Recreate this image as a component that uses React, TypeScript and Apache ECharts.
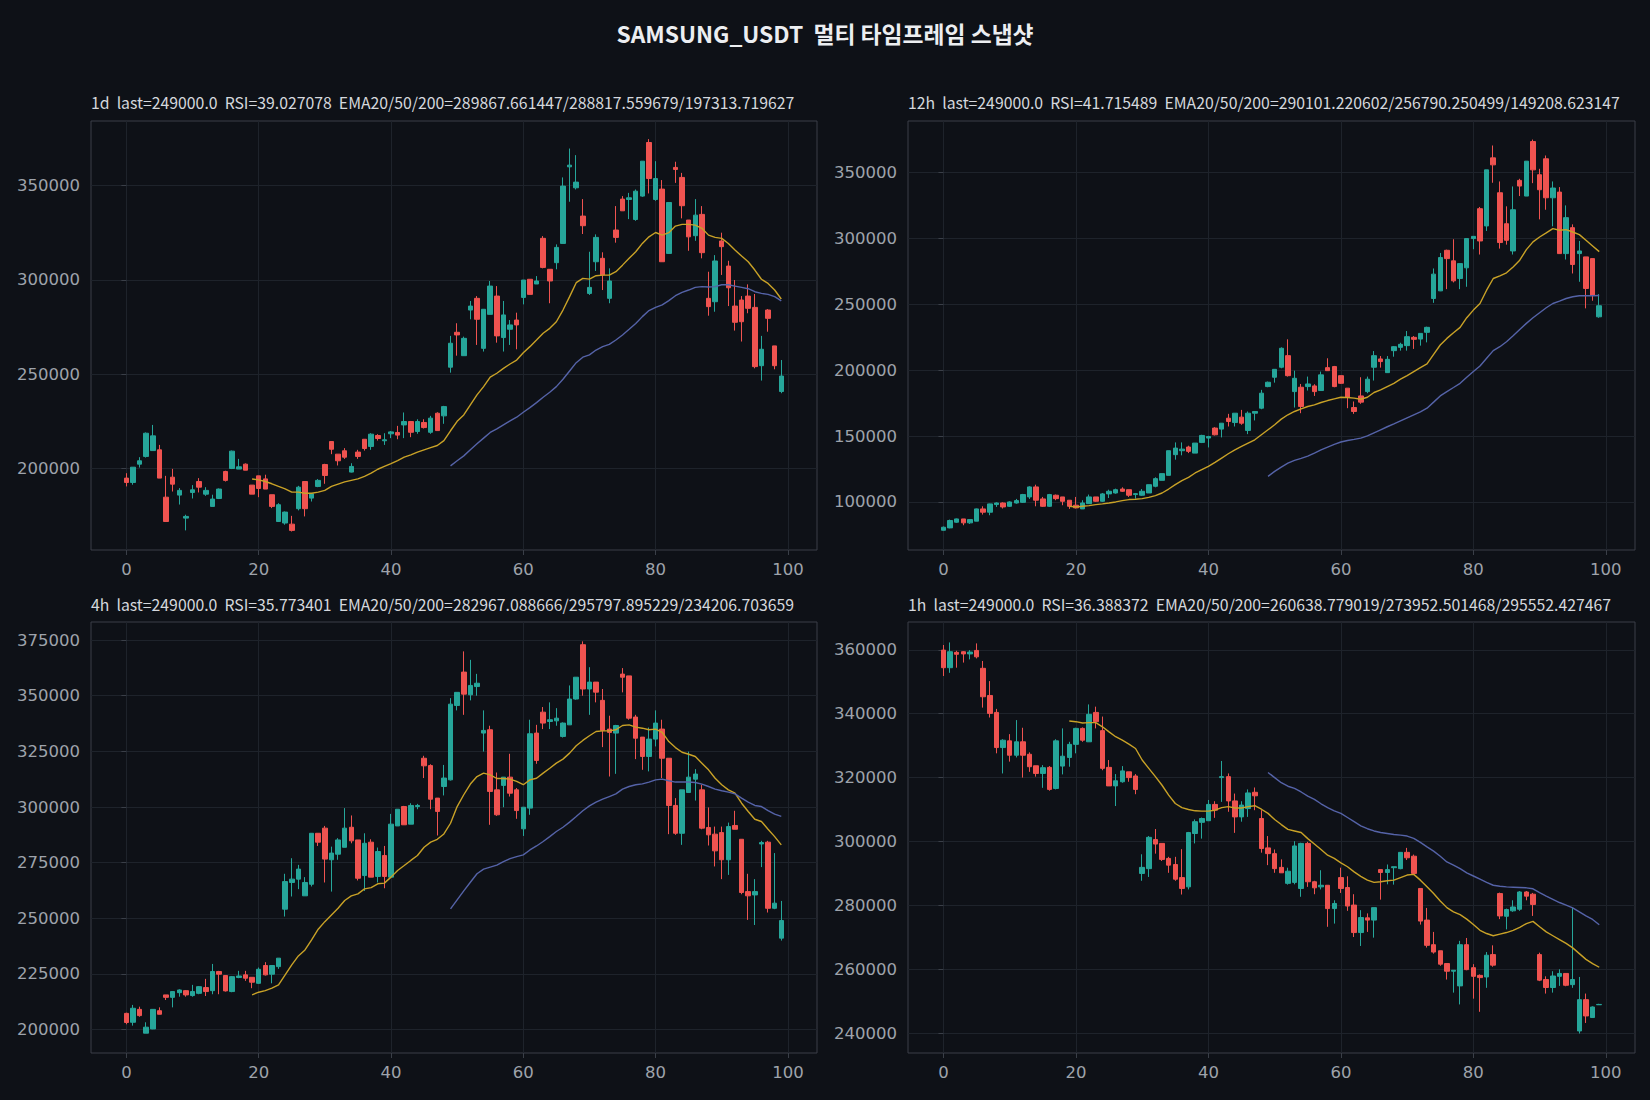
import React, { useEffect, useRef } from "react";
import * as echarts from "echarts";

// ---------- DATA ----------
const mainTitle = "SAMSUNG_USDT \u00a0멀티 타임프레임 스냅샷";
const panelHeaders = [
  "1d \u00a0last=249000.0 \u00a0RSI=39.027078 \u00a0EMA20/50/200=289867.661447/288817.559679/197313.719627",
  "12h \u00a0last=249000.0 \u00a0RSI=41.715489 \u00a0EMA20/50/200=290101.220602/256790.250499/149208.623147",
  "4h \u00a0last=249000.0 \u00a0RSI=35.773401 \u00a0EMA20/50/200=282967.088666/295797.895229/234206.703659",
  "1h \u00a0last=249000.0 \u00a0RSI=36.388372 \u00a0EMA20/50/200=260638.779019/273952.501468/295552.427467",
];
const xTicks = [0, 20, 40, 60, 80, 100];
const yTicks1d = [200000, 250000, 300000, 350000];
const yTicks12h = [100000, 150000, 200000, 250000, 300000, 350000];
const yTicks4h = [200000, 225000, 250000, 275000, 300000, 325000, 350000, 375000];
const yTicks1h = [240000, 260000, 280000, 300000, 320000, 340000, 360000];

// candles: [open, close, low, high]
const candles1d = [
  [194900,192600,190500,197500],[192600,200700,191400,200700],[202300,204100,200500,206000],[206400,218700,205800,219100],
  [209500,217300,209500,223100],[209900,194900,194900,212500],[184800,171900,171900,196100],[195400,191700,187800,199800],
  [185900,188400,180900,189600],[173700,174600,167200,175500],[187300,188700,184100,191200],[193100,190100,187300,194900],
  [186400,188400,185500,190100],[179900,183800,179900,186100],[184100,189100,183800,189400],[198400,193700,193100,198800],
  [200000,209200,199700,209500],[199700,200900,199700,205100],[202300,199100,199100,202700],[191200,186400,186400,191200],
  [196100,189400,184800,196100],[194500,189100,189100,196700],[186100,179900,179000,186100],[171900,180800,171900,181600],
  [171100,176900,170200,177200],[170500,167200,166600,174900],[178700,190100,177800,190800],[193100,178700,174600,193100],
  [184300,186600,182500,186900],[190500,193700,190100,194400],[202100,196300,191900,202500],[214300,210200,207600,214300],
  [207600,204100,201600,207600],[209400,206000,205100,210800],[198100,201100,197900,202800],[208700,206400,205100,209900],
  [215500,210600,209500,215500],[211700,218200,209900,218700],[217500,215900,214800,218200],[214700,215200,212500,218700],
  [218400,219400,216100,219900],[219100,217700,215500,222600],[223100,224900,216100,229700],[224900,219200,216600,225200],
  [219600,224900,218400,226100],[224400,221700,221200,226100],[219200,226700,218400,227900],[229300,220100,220100,229800],
  [227900,232800,223700,233200],[253700,266400,250800,270300],[272200,270800,259800,277000],[259800,269000,259800,269900],
  [284000,286100,279100,288800],[290200,279100,265500,291400],[263700,284400,262000,284400],[281700,296700,281700,299400],
  [291400,270300,266700,296700],[269400,281400,262000,288800],[273800,276100,265500,278700],[278700,276100,263200,282600],
  [290700,299900,287000,299900],[300300,292300,292300,300300],[297800,299400,297800,302000],[322000,306600,306100,323200],
  [305600,299400,287600,305600],[309100,317200,305600,318800],[319300,349700,319300,354300],[359900,360800,341400,369600],
  [348800,351800,347900,366100],[333800,328700,324300,342800],[292800,296000,292000,314900],[309600,322500,304700,324100],
  [311400,302600,294600,314600],[290200,299400,287600,306100],[326400,322500,319700,339100],[342800,336600,336600,344400],
  [342600,343500,332200,346100],[332000,347000,331300,347900],[344400,362900,344000,362900],[372800,353700,345800,374600],
  [342600,353700,341900,362900],[348100,309600,309600,352900],[314000,341000,313700,341000],[359600,358500,351400,362600],
  [354300,339300,332600,356700],[331700,322800,315400,331700],[323400,334300,320700,342800],[334700,314400,311400,339100],
  [290200,285800,281000,304300],[288400,310000,283100,313100],[320600,317600,302600,325000],[307300,295800,286100,310100],
  [286100,277500,273100,299900],[289300,277800,267300,291400],[291400,284900,282300,297600],[285400,254000,253100,292500],
  [254500,263200,246600,270300],[284000,279600,272500,284500],[265000,254500,252600,265000],[240800,249000,239900,257500],
];
const ema20_1d = [
  194400,194000,193100,191900,190500,189200,187500,187500,186900,186900,
  187500,188400,190500,191700,192900,193700,194500,195800,197500,199600,
  201100,202600,204200,206000,207200,208700,209900,211100,212200,214800,
  220000,225000,228400,233700,239000,243400,248400,250500,253100,255400,
  257500,261400,264600,268100,271700,274300,277800,284000,291100,298500,
  300800,300400,302200,302500,302500,304300,307800,311400,314900,319300,
  322800,325100,323700,325000,328500,329400,329400,329000,327300,323700,
  322500,322000,319300,315800,312600,309600,305200,300300,298100,294600,
  289868,
];
const ema50_1d = [
  201400,204100,206700,209900,213100,216100,219100,221000,223100,225200,
  227200,229800,232300,234900,237800,240400,243400,247300,251700,256100,
  259000,260200,262800,264600,265800,268100,270800,273800,276900,280500,
  283700,285400,286700,289000,291600,293400,294600,296000,296400,296200,
  296400,297400,297400,296700,296000,295300,293700,292800,292300,291100,
  288818,
];

const candles12h = [
  [78500,80800,78300,81300],[80300,85900,80000,86600],[84600,87100,84100,87400],[87100,84100,82300,87100],
  [84100,86600,83300,86600],[85400,94700,85400,95000],[94700,92200,90400,96700],[92200,98500,89900,98700],
  [98000,99200,96200,99700],[99200,96200,95000,99700],[96700,100000,96200,100500],[99200,101000,98700,102300],
  [99700,105600,99200,106100],[103800,111400,102300,111900],[111400,101300,96700,113100],[102300,96700,96200,103800],
  [96700,105600,96200,106100],[105100,102500,101300,105600],[103800,100500,97500,103800],[101300,96700,94700,101300],
  [97500,95500,95000,103800],[94700,99200,94700,101300],[98700,103800,98700,105600],[103800,100500,100000,103800],
  [100500,106100,100000,106800],[106100,108100,103000,109300],[106800,109300,106300,110100],[109800,108100,107600,111100],
  [109300,105100,103800,109300],[105600,106300,102500,106800],[105100,108100,104600,109800],[106800,113100,106800,113100],
  [111900,117700,111100,118700],[116400,121500,116400,121500],[120200,138900,120200,138900],[135900,140900,132100,145200],
  [138900,140100,135400,145200],[141700,138400,137100,142700],[137100,144700,137100,144700],[145200,150500,144700,151000],
  [148500,149700,141400,150200],[156100,151000,150500,156800],[155300,159800,149000,159800],[163600,161100,157300,166900],
  [160300,167400,157300,167400],[164400,159800,158600,169900],[154300,167400,151500,168700],[167400,168700,161900,168700],
  [171200,182600,170400,185100],[187600,190900,187100,191400],[194700,200700,190600,200700],[202300,216700,201500,217400],
  [211100,195900,195200,223500],[183800,193900,171700,199700],[187100,172500,167400,189600],[187600,189600,184600,195200],
  [188100,183800,180500,189400],[184600,196500,184600,199000],[202000,199700,199700,209100],[202800,187600,187100,203300],
  [195900,190100,189600,195900],[186400,179500,171200,186400],[171700,168700,166900,176300],[180500,175800,174500,194700],
  [183800,193200,182600,195200],[202300,211100,192200,214600],[208600,206600,202000,210800],[198200,208300,198200,210800],
  [214900,217900,210300,218400],[217400,219700,214900,220900],[218700,225500,214900,229800],[225000,223500,216200,226000],
  [223700,228000,218700,228000],[228800,232600,221200,233100],[254500,273000,251200,277300],[260300,285600,260100,289100],
  [291100,284800,261600,291600],[283100,267900,266700,299500],[269700,281000,261600,281000],[277800,300000,263400,300000],
  [300000,301700,291900,301700],[322700,298200,287900,324000],[309600,352200,305800,352200],[361300,356000,342400,370700],
  [334800,297000,292400,343400],[311300,298700,295400,324500],[290600,321900,287900,339600],[344200,339900,332300,345400],
  [332300,358800,332300,358800],[373700,352200,342100,375200],[348500,337100,314600,353000],[360600,331000,321900,363100],
  [331000,338400,309300,343400],[335300,288600,288600,339100],[288600,315900,284100,325200],[308300,280300,273500,310800],
  [288600,290600,267200,298200],[286100,262100,247000,286100],[284800,257100,252800,284800],[240600,249000,239900,257800],
];
const ema20_12h = [
  96700,96200,96700,97200,98000,98500,99200,100000,101000,101800,
  102000,102500,103500,104800,106800,109800,113100,116200,118700,122000,
  124500,127000,130000,133300,136600,139600,142200,144700,147200,151000,
  154800,158600,162900,166200,168700,170700,172500,173700,175500,177000,
  178300,179500,179300,178800,178000,179500,183100,185100,187600,190100,
  193200,196000,199000,202000,204800,212100,219200,224200,228500,232600,
  239900,245700,250700,260800,269700,271700,274000,278500,283600,291600,
  297500,301200,304300,307600,306300,306800,305000,303000,298700,294400,
  290101,
];
const ema50_12h = [
  119400,123200,126500,129500,131600,133100,134800,137100,139600,141700,
  143700,145500,146700,147500,148500,150200,152500,154800,157100,159300,
  161600,163900,166200,168400,171200,175800,180500,183800,186900,190100,
  194700,199000,203300,209100,214900,217900,221700,226200,231000,235600,
  239900,243700,247500,250700,252500,254500,255800,256600,256600,256600,
  256790,
];

const candles4h = [
  [207300,203200,202400,207600],[203300,209600,201800,211100],[209100,206300,205800,210300],[198400,201100,198400,203300],
  [200300,209100,200200,209100],[208500,206900,206900,210000],[215600,214500,213300,215600],[214500,217100,210000,217100],
  [216600,217800,214800,218100],[217500,215600,214800,217800],[215300,217100,214800,220100],[216300,219300,215900,219600],
  [218900,217100,215100,222800],[217500,226100,215900,229500],[226100,224900,215900,226400],[224300,217400,217100,224300],
  [217100,223800,216800,224100],[223400,224100,223100,226400],[224600,223100,221900,226400],[223500,221300,218600,223500],
  [220800,227100,220500,227900],[228800,224600,224300,230300],[224900,228800,220800,228800],[228300,232100,227300,232100],
  [254100,266500,250800,270000],[266100,267600,259800,277000],[267600,272100,263100,274000],[260100,266100,260100,268500],
  [265300,288200,264300,288200],[288200,284200,282500,288200],[290500,276600,266100,291500],[276300,279300,262000,282200],
  [278800,285200,276300,286000],[281900,290500,281900,299500],[290900,284800,283700,296200],[285200,268000,267000,285200],
  [269200,283700,262300,288200],[284200,268500,268500,285500],[268800,280000,266100,281800],[278200,268800,263500,282500],
  [268500,292300,268500,296900],[291500,299000,291500,299000],[300200,292000,292000,300500],[292300,300700,292300,301700],
  [300200,300700,299000,301400],[321900,318500,313000,323000],[318600,303500,299000,319200],[304000,298000,287200,304000],
  [309200,313000,305200,318900],[312200,346200,311900,348900],[345600,351500,343400,351500],[360600,350700,341400,369900],
  [350400,354600,347900,366100],[354100,355600,350000,359800],[333200,334400,324900,343400],[334700,307000,292000,336500],
  [307700,296500,296000,315500],[309700,313400,299900,313400],[313400,306200,304700,323900],[307700,298400,294700,308500],
  [290200,299900,287000,299900],[299500,332900,296500,339200],[333200,320900,319400,336900],[342600,337700,335000,344900],
  [338400,339200,335000,347000],[338700,339900,336500,344400],[331700,337700,331200,338000],[336900,348500,336900,354600],
  [348500,358300,348200,358300],[372900,353000,350000,374400],[353000,356100,341400,362800],[356100,351600,347000,356100],
  [347900,334400,326900,353000],[335000,333500,313700,341000],[333200,336600,314900,336900],[359700,358300,351500,362400],
  [358900,339900,339200,358900],[340400,330900,321500,341400],[331400,322700,316700,331400],[322700,330500,316000,335700],
  [330500,337700,327200,343400],[335000,321900,313000,339200],[321900,300700,287800,321900],[300700,288200,287500,304000],
  [288200,307700,283000,307700],[306500,313400,306500,324900],[312500,314800,302900,317000],[307700,290500,290000,310000],
  [290800,287500,282700,299800],[287800,280300,273300,291200],[288500,276300,267600,291200],[276300,291200,269500,293000],
  [291700,290000,290000,298300],[285500,261600,260800,285500],[262000,260100,249300,270000],[260500,262000,247000,267600],
  [283400,284000,273000,284800],[284200,254500,252600,284800],[254500,256800,254100,279300],[241100,249000,240000,257800],
];
const ema20_4h = [
  215600,216800,217500,218600,220100,224600,229100,233100,235800,240300,
  245100,248500,251500,254500,258000,260100,261000,263200,263800,265500,
  265800,268500,271500,273700,276000,278200,281900,284200,285500,287900,
  292700,300200,305500,310300,313700,315200,314400,312800,312800,312500,
  311500,310000,312200,312900,315200,317400,319700,321500,324200,327500,
  329900,332000,333900,334200,334200,334700,336600,336900,335900,335400,
  334700,335000,333500,329400,326700,324600,323700,322700,319700,316700,
  312900,310000,307700,306200,301700,298000,294500,293500,290000,286700,
  282967,
];
const ema50_4h = [
  254200,258300,262300,266200,270000,272100,273000,273900,275500,276800,
  277700,278500,280700,282500,284500,286700,289000,290900,293200,295700,
  298300,300500,302200,303500,304700,305900,308000,309200,310000,310400,
  311200,312200,312500,311800,311200,311200,311200,311000,310300,309200,
  308000,307300,306700,305900,304000,302200,300700,300200,298400,296800,
  295798,
];

const candles1h = [
  [359900,354400,351800,361500],[354400,359400,352800,362300],[359200,358600,354400,359700],[359400,358700,356000,359600],
  [358700,359300,357000,359900],[359800,357800,357300,362000],[354200,345300,341900,356500],[345700,340100,338800,350200],
  [340400,329400,327600,341500],[329400,331700,321300,332000],[331500,327000,325000,333600],[327000,331200,326300,338000],
  [331200,327000,320000,335600],[327300,323400,321800,327900],[323700,321300,320300,323700],[321300,323100,316800,323900],
  [323200,316300,315900,323600],[316600,331500,316300,332000],[323600,326700,321000,335400],[326300,330400,323400,331200],
  [330400,335400,327600,335600],[335400,331700,331200,335700],[331200,339800,331200,342900],[340400,337500,335400,342200],
  [334700,322900,322300,339100],[323200,317400,317400,325500],[317400,319000,311100,321100],[318700,322100,318400,323600],
  [321800,320000,318700,321800],[320500,316300,314800,321100],[290000,291900,287700,296000],[291500,301300,288900,301700],
  [300600,299200,296200,303900],[299400,294400,293900,299400],[294700,292600,290200,295200],[292800,288200,287700,295200],
  [288700,285300,283400,297600],[285800,302800,285000,303000],[302500,306200,299400,306900],[306000,307200,300900,307500],
  [306500,311600,306500,313000],[311600,309800,307400,312600],[320000,320300,312400,325200],[320300,312700,309300,321300],
  [312700,307700,302700,315000],[307700,311400,306200,312600],[310300,315200,307700,316300],[315400,314300,309800,316900],
  [307200,297800,296500,309800],[298000,296200,292600,301700],[296200,291500,290200,297500],[291900,290200,290200,294400],
  [286900,290700,286500,291800],[287200,298600,286600,300100],[285300,299400,282700,299600],[299400,287400,285800,299900],
  [287400,285500,283500,287700],[285800,286300,285000,291000],[286300,279000,273300,286300],[279000,280600,274300,281600],
  [288700,285300,283900,291800],[285600,279800,278300,289100],[280100,271500,270100,283500],[271500,276200,267300,278500],
  [276100,275400,271700,277500],[275400,279300,269900,279300],[291200,290300,281800,291200],[290300,291200,286600,292800],
  [291800,292100,286500,292100],[291500,296600,291300,296600],[296600,294900,294200,298000],[295400,290000,289800,295900],
  [285300,275100,274000,285300],[275400,267500,266800,279200],[267700,265400,264900,271700],[265800,261600,261100,265800],
  [261800,259400,256800,261800],[259400,259700,252700,259700],[254800,267700,249000,268900],[267700,259900,259700,269800],
  [260500,257800,250800,261600],[258100,257400,246700,258400],[257600,264400,254200,265400],[264600,261300,260800,267500],
  [283700,276700,275700,284000],[276600,278700,272500,279000],[278300,279500,278000,281600],[278800,284200,278300,284500],
  [284200,282900,281600,284500],[283500,280300,276700,283900],[264600,256600,256300,265200],[256800,254300,252400,257800],
  [254300,257900,252700,259400],[257800,258700,254800,260000],[258700,255000,254700,258700],[255200,256800,254200,279200],
  [240700,250500,239900,257600],[250500,245400,243200,252400],[244900,248200,244800,248400],[248900,249000,248900,249200],
];
const ema20_1h = [
  337700,337500,337100,337200,337200,335900,334300,332800,331700,330500,
  329100,325500,322900,320300,317600,314500,311900,310600,310000,309600,
  309500,309500,309800,310600,310900,310500,310500,310900,311200,310100,
  308800,306900,305300,303800,303300,302800,300900,299200,297500,295700,
  294700,293300,292100,290500,289100,287900,287200,287400,287700,287900,
  288700,289500,289700,287900,285800,283700,281400,279300,278000,277100,
  275700,274000,272200,271200,270500,271000,271500,272200,273100,274300,
  275000,273300,271700,270500,269300,268100,266700,264900,263100,261800,
  260639,
];
const ema50_1h = [
  321600,320000,318400,317300,316600,315500,314200,313200,311800,310600,
  309600,308800,307500,306200,304900,304000,303300,302800,302500,302200,
  302000,301700,301000,299700,298300,297000,295400,293600,292600,291500,
  290200,289200,288200,287200,286300,286000,285800,285700,285600,285500,
  285200,284000,282900,281900,280900,280100,279200,278000,276700,275600,
  273953,
];

// ---------- STYLE ----------
const BG = "#0e1117";
const UP = "#26a69a";
const DOWN = "#ef5350";
const EMA20_COLOR = "#c9a227";
const EMA50_COLOR = "#5563a8";
const GRID_LINE = "#1e232b";
const FRAME = "#3a3f48";
const TICK_TEXT = "#9ea3ab";
const HEAD_TEXT = "#d5d8dd";
const KFONT = "'Noto Sans CJK KR', 'Noto Sans', sans-serif";
const TFONT = "'DejaVu Sans', sans-serif";

const panels = [
  { candles: candles1d, ema20: ema20_1d, ema50: ema50_1d, yTicks: yTicks1d, yMin: 156800, yMax: 384200, step: 50000,
    grid: { left: 91, top: 121, width: 726, height: 429 }, head: { left: 91, top: 95 } },
  { candles: candles12h, ema20: ema20_12h, ema50: ema50_12h, yTicks: yTicks12h, yMin: 63500, yMax: 389300, step: 50000,
    grid: { left: 908, top: 121, width: 727, height: 429 }, head: { left: 908, top: 95 } },
  { candles: candles4h, ema20: ema20_4h, ema50: ema50_4h, yTicks: yTicks4h, yMin: 189500, yMax: 383100, step: 25000,
    grid: { left: 91, top: 622, width: 726, height: 431 }, head: { left: 91, top: 597 } },
  { candles: candles1h, ema20: ema20_1h, ema50: ema50_1h, yTicks: yTicks1h, yMin: 233800, yMax: 368700, step: 20000,
    grid: { left: 908, top: 622, width: 727, height: 431 }, head: { left: 908, top: 597 } },
];

function buildOption() {
  const grid: any[] = [];
  const xAxis: any[] = [];
  const yAxis: any[] = [];
  const series: any[] = [];
  const title: any[] = [
    {
      text: mainTitle,
      left: "center",
      top: 22,
      padding: 0,
      textStyle: { color: "#eceef1", fontSize: 22.8, fontWeight: "bold", fontFamily: KFONT },
    },
  ];
  panels.forEach((p, gi) => {
    grid.push({ ...p.grid, show: true, borderColor: FRAME, borderWidth: 1, backgroundColor: "transparent", containLabel: false });
    title.push({
      text: panelHeaders[gi],
      left: p.head.left,
      top: p.head.top,
      padding: 0,
      textStyle: { color: HEAD_TEXT, fontSize: 15.8, fontWeight: "normal", fontFamily: KFONT },
    });
    xAxis.push({
      type: "value",
      gridIndex: gi,
      min: -5.35,
      max: 104.4,
      minInterval: 20,
      maxInterval: 20,
      axisLine: { show: false },
      axisTick: { show: true, length: 5, lineStyle: { color: FRAME }, customValues: xTicks },
      axisLabel: {
        color: TICK_TEXT, fontSize: 16.5, fontFamily: TFONT, margin: 11, customValues: xTicks,
        formatter: (v: number) => String(v),
      },
      splitLine: { show: true, lineStyle: { color: GRID_LINE, width: 1 } },
    });
    yAxis.push({
      type: "value",
      gridIndex: gi,
      min: p.yMin,
      max: p.yMax,
      minInterval: p.step,
      maxInterval: p.step,
      scale: true,
      axisLine: { show: false },
      axisTick: { show: true, length: 5, lineStyle: { color: FRAME }, customValues: p.yTicks },
      axisLabel: {
        color: TICK_TEXT, fontSize: 16.5, fontFamily: TFONT, margin: 11, customValues: p.yTicks,
        formatter: (v: number) => String(v),
      },
      splitLine: { show: true, lineStyle: { color: GRID_LINE, width: 1 } },
    });
    series.push({
      type: "candlestick",
      xAxisIndex: gi,
      yAxisIndex: gi,
      barWidth: 5,
      encode: { x: 0, y: [1, 2, 3, 4] },
      data: p.candles.map((c, i) => [i, c[0], c[1], c[2], c[3]]),
      itemStyle: { color: UP, color0: DOWN, borderColor: UP, borderColor0: DOWN, borderWidth: 1 },
      z: 2,
    });
    series.push({
      type: "line",
      xAxisIndex: gi,
      yAxisIndex: gi,
      showSymbol: false,
      symbol: "none",
      data: p.ema20.map((v, k) => [19 + k, v]),
      lineStyle: { color: EMA20_COLOR, width: 1.4 },
      z: 3,
    });
    series.push({
      type: "line",
      xAxisIndex: gi,
      yAxisIndex: gi,
      showSymbol: false,
      symbol: "none",
      data: p.ema50.map((v, k) => [49 + k, v]),
      lineStyle: { color: EMA50_COLOR, width: 1.4 },
      z: 3,
    });
  });
  return {
    animation: false,
    backgroundColor: BG,
    title,
    grid,
    xAxis,
    yAxis,
    series,
  };
}

export default function App() {
  const ref = useRef<HTMLDivElement>(null);
  useEffect(() => {
    document.body.style.margin = "0";
    document.body.style.background = BG;
    const chart = echarts.init(ref.current!, null, { renderer: "svg" });
    chart.setOption(buildOption() as any);
    return () => chart.dispose();
  }, []);
  return <div ref={ref} style={{ width: 1650, height: 1100 }} />;
}
